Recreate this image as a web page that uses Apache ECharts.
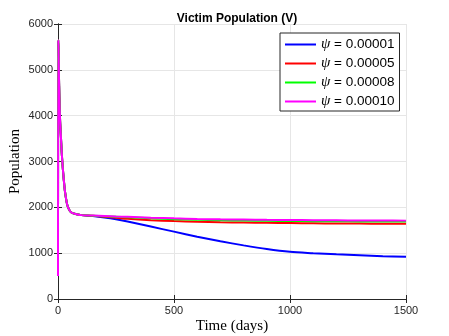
<!DOCTYPE html>
<html>
<head>
<meta charset="utf-8">
<script src="https://cdn.jsdelivr.net/npm/echarts@6/dist/echarts.min.js"></script>
<style>
  html, body { margin: 0; padding: 0; background: #fff; }
  #chart { width: 449px; height: 336px; }
</style>
</head>
<body>
<div id="chart"></div>
<script>
// time points (days)
const times = [0, 1, 2, 4, 6, 9, 12, 16, 20, 25, 30, 40, 50, 60, 80, 100,
    150, 200, 250, 300, 400, 500, 600, 700, 800, 900, 1000, 1100, 1200, 1300, 1400, 1500];
// shared initial transient (0..100 days)
const earlyV = [500, 5650, 5500, 4900, 4400, 3900, 3600, 3200, 2900, 2600, 2350, 2050, 1930, 1880, 1850, 1830];
// tails from 150 to 1500 days
const tailPsi1 = [1810, 1780, 1740, 1690, 1580, 1470, 1360, 1260, 1170, 1090, 1030, 1000, 975, 955, 935, 920];
const tailPsi5 = [1815, 1795, 1775, 1750, 1720, 1700, 1685, 1675, 1668, 1662, 1657, 1652, 1648, 1645, 1642, 1640];
const tailPsi8 = [1818, 1805, 1793, 1782, 1760, 1742, 1727, 1717, 1710, 1705, 1701, 1698, 1695, 1693, 1691, 1690];
const tailPsi10 = [1820, 1810, 1800, 1792, 1775, 1760, 1747, 1738, 1732, 1727, 1723, 1720, 1717, 1714, 1712, 1710];
const names = ['ψ = 0.00001', 'ψ = 0.00005', 'ψ = 0.00008', 'ψ = 0.00010'];
const colors = ['#0000ff', '#ff0000', '#00ff00', '#ff00ff'];
const tails = [tailPsi1, tailPsi5, tailPsi8, tailPsi10];

const chart = echarts.init(document.getElementById('chart'));
const axisColor = '#262626';

function pairs(tail) {
    const vals = earlyV.concat(tail);
    return times.map((t, i) => [t, vals[i]]);
}

let series = names.map((n, i) => ({
    name: n,
    type: 'line',
    data: pairs(tails[i]),
    showSymbol: false,
    symbol: 'none',
    smooth: 0.3,
    lineStyle: { color: colors[i], width: 2 },
    itemStyle: { color: colors[i] },
    animation: false
}));

let option = {
    animation: false,
    title: {
        text: 'Victim Population (V)',
        left: 232,
        textAlign: 'center',
        top: 8,
        textStyle: { fontFamily: 'Liberation Sans', fontSize: 12, fontWeight: 'bold', color: '#000' }
    },
    grid: { left: 58, top: 24, width: 348, height: 275, containLabel: false, outerBoundsMode: 'none' },
    legend: {
        data: names,
        orient: 'vertical',
        left: 280,
        top: 33,
        itemWidth: 31,
        itemHeight: 14,
        itemGap: 4,
        padding: [4, 5, 2, 4],
        borderColor: axisColor,
        borderWidth: 1,
        borderRadius: 0,
        backgroundColor: '#fff',
        itemStyle: { opacity: 0 },
        lineStyle: { width: 2 },
        formatter: (name) => '{p|ψ}{n|' + name.slice(1) + '}',
        textStyle: {
            rich: {
                p: { fontFamily: 'Liberation Serif', fontStyle: 'italic', fontSize: 15, color: '#000' },
                n: { fontFamily: 'Liberation Sans', fontSize: 13.5, color: '#000' }
            }
        }
    },
    xAxis: [{
        type: 'value',
        min: 0, max: 1500, interval: 500,
        name: 'Time (days)',
        nameLocation: 'middle',
        nameGap: 20,
        nameMoveOverlap: false,
        nameTextStyle: { fontFamily: 'Liberation Serif', fontSize: 15, color: '#000' },
        axisLine: { lineStyle: { color: axisColor } },
        axisTick: { inside: true, length: 4, lineStyle: { color: axisColor } },
        axisLabel: { margin: 6, fontFamily: 'Liberation Sans', fontSize: 11, color: axisColor, formatter: (v) => String(v) },
        splitLine: { show: true, lineStyle: { color: '#e6e6e6' } }
    }, {
        type: 'value', position: 'top',
        min: 0, max: 1500, interval: 500,
        axisLine: { show: true, lineStyle: { color: axisColor } },
        axisTick: { inside: true, length: 4, lineStyle: { color: axisColor } },
        axisLabel: { show: false },
        splitLine: { show: false }
    }],
    yAxis: [{
        type: 'value',
        min: 0, max: 6000, interval: 1000,
        name: 'Population',
        nameLocation: 'middle',
        nameGap: 35,
        nameMoveOverlap: false,
        nameRotate: 90,
        nameTextStyle: { fontFamily: 'Liberation Serif', fontSize: 15, color: '#000' },
        axisLine: { show: true, lineStyle: { color: axisColor } },
        axisTick: { show: true, inside: true, length: 4, lineStyle: { color: axisColor } },
        axisLabel: { margin: 5, fontFamily: 'Liberation Sans', fontSize: 11, color: axisColor, formatter: (v) => String(v) },
        splitLine: { show: true, lineStyle: { color: '#e6e6e6' } }
    }, {
        type: 'value', position: 'right',
        min: 0, max: 6000, interval: 1000,
        axisLine: { show: true, lineStyle: { color: axisColor } },
        axisTick: { show: true, inside: true, length: 4, lineStyle: { color: axisColor } },
        axisLabel: { show: false },
        splitLine: { show: false }
    }],
    series: series
};
chart.setOption(option);
</script>
</body>
</html>
